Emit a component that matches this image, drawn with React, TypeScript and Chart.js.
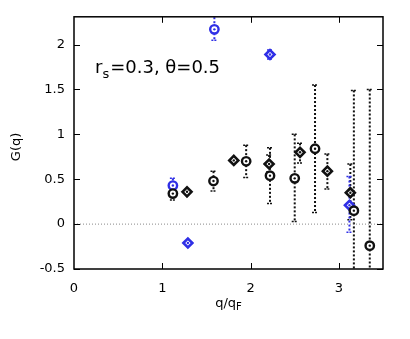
import React, { useEffect, useRef } from "react";
import { Chart, registerables } from "chart.js";

Chart.register(...registerables);

const xTicks = [0, 1, 2, 3];
const yTicks = [-0.5, 0, 0.5, 1, 1.5, 2];

const blackCircleX = [1.12, 1.58, 1.95, 2.22, 2.5, 2.73, 3.17, 3.35];
const blackCircleY = [0.34, 0.48, 0.7, 0.54, 0.51, 0.84, 0.15, -0.24];
const blackCircleLo = [0.27, 0.37, 0.52, 0.23, 0.03, 0.13, -0.7, -0.7];
const blackCircleHi = [0.4, 0.59, 0.88, 0.85, 1.0, 1.55, 1.49, 1.5];

const blackDiamondX = [1.28, 1.81, 2.21, 2.56, 2.87, 3.13];
const blackDiamondY = [0.36, 0.71, 0.67, 0.8, 0.59, 0.35];
const blackDiamondLo = [0.35, 0.7, 0.58, 0.68, 0.39, 0.05];
const blackDiamondHi = [0.37, 0.72, 0.77, 0.9, 0.78, 0.67];

const blueCircleX = [1.12, 1.59];
const blueCircleY = [0.43, 2.17];
const blueCircleLo = [0.38, 2.05];
const blueCircleHi = [0.51, 2.35];

const blueDiamondX = [1.29, 2.22, 3.12];
const blueDiamondY = [-0.21, 1.89, 0.21];
const blueDiamondLo = [-0.22, 1.84, -0.09];
const blueDiamondHi = [-0.2, 1.94, 0.53];

const BLACK = "#111111";
const BLUE = "#2f2fe6";

function pts(xs: number[], ys: number[]) {
  return xs.map((x, i) => ({ x, y: ys[i] }));
}

export default function App() {
  const ref = useRef<HTMLCanvasElement | null>(null);
  useEffect(() => {
    document.body.style.margin = "0";
    const canvas = ref.current!;
    const errs: Record<number, { lo: number[]; hi: number[]; color: string }> = {
      1: { lo: blackCircleLo, hi: blackCircleHi, color: BLACK },
      2: { lo: blackDiamondLo, hi: blackDiamondHi, color: BLACK },
      3: { lo: blueCircleLo, hi: blueCircleHi, color: BLUE },
      4: { lo: blueDiamondLo, hi: blueDiamondHi, color: BLUE },
    };
    const plugin = {
      id: "custom",
      beforeDatasetsDraw(chart: any) {
        const { ctx, chartArea: a, scales } = chart;
        const ys = scales.y;
        ctx.save();
        ctx.beginPath();
        ctx.rect(a.left, a.top, a.right - a.left, a.bottom - a.top);
        ctx.clip();
        for (const k of Object.keys(errs)) {
          const idx = Number(k);
          const e = errs[idx];
          const meta = chart.getDatasetMeta(idx);
          meta.data.forEach((el: any, i: number) => {
            const px = el.x;
            const top = ys.getPixelForValue(e.hi[i]);
            const bot = ys.getPixelForValue(e.lo[i]);
            ctx.strokeStyle = e.color;
            ctx.lineWidth = 2;
            ctx.setLineDash([2, 2]);
            ctx.beginPath();
            ctx.moveTo(px, top);
            ctx.lineTo(px, bot);
            ctx.stroke();
            ctx.setLineDash([2, 1]);
            ctx.lineWidth = 1.5;
            for (const yy of [top, bot]) {
              ctx.beginPath();
              ctx.moveTo(px - 3, yy);
              ctx.lineTo(px + 3, yy);
              ctx.stroke();
            }
          });
        }
        ctx.restore();
      },
      afterDatasetsDraw(chart: any) {
        const { ctx, chartArea: a, scales } = chart;
        for (const idx of [1, 2, 3, 4]) {
          const meta = chart.getDatasetMeta(idx);
          const color = idx <= 2 ? BLACK : BLUE;
          meta.data.forEach((el: any) => {
            ctx.fillStyle = color;
            ctx.beginPath();
            ctx.arc(el.x, el.y, 1.2, 0, Math.PI * 2);
            ctx.fill();
          });
        }
        ctx.save();
        ctx.strokeStyle = "#000";
        ctx.lineWidth = 1.5;
        ctx.setLineDash([]);
        ctx.strokeRect(a.left, a.top, a.right - a.left, a.bottom - a.top);
        ctx.lineWidth = 1;
        const tl = 6;
        for (const v of xTicks) {
          const px = Math.round(scales.x.getPixelForValue(v)) + 0.5;
          if (v === 0) continue;
          ctx.beginPath();
          ctx.moveTo(px, a.bottom);
          ctx.lineTo(px, a.bottom - tl);
          ctx.moveTo(px, a.top);
          ctx.lineTo(px, a.top + tl);
          ctx.stroke();
        }
        for (const v of yTicks) {
          const py = Math.round(scales.y.getPixelForValue(v)) + 0.5;
          ctx.beginPath();
          ctx.moveTo(a.left, py);
          ctx.lineTo(a.left + tl, py);
          ctx.moveTo(a.right, py);
          ctx.lineTo(a.right - tl, py);
          ctx.stroke();
        }
        ctx.fillStyle = "#000";
        ctx.textBaseline = "alphabetic";
        ctx.textAlign = "left";
        ctx.font = '18px "DejaVu Sans"';
        let x = 95;
        const base = 73;
        ctx.fillText("r", x, base);
        x += ctx.measureText("r").width;
        ctx.font = '13px "DejaVu Sans"';
        ctx.fillText("s", x, base + 5);
        x += ctx.measureText("s").width + 1;
        ctx.font = '18px "DejaVu Sans"';
        ctx.fillText("=0.3, θ=0.5", x, base);
        ctx.font = '13px "DejaVu Sans"';
        const w1 = ctx.measureText("q/q").width;
        ctx.font = '10px "DejaVu Sans"';
        const w2 = ctx.measureText("F").width;
        const cx = (a.left + a.right) / 2;
        const sx = cx - (w1 + w2) / 2;
        ctx.font = '13px "DejaVu Sans"';
        ctx.fillText("q/q", sx, 307);
        ctx.font = '10px "DejaVu Sans"';
        ctx.fillText("F", sx + w1, 310);
        ctx.save();
        ctx.translate(20, (a.top + a.bottom) / 2 + 4);
        ctx.rotate(-Math.PI / 2);
        ctx.font = '13px "DejaVu Sans"';
        ctx.textAlign = "center";
        ctx.fillText("G(q)", 0, 0);
        ctx.restore();
        ctx.restore();
      },
    };

    const chart = new Chart(canvas, {
      type: "scatter",
      data: {
        datasets: [
          {
            type: "line",
            data: [
              { x: 0, y: 0 },
              { x: 3.5, y: 0 },
            ],
            borderColor: "#888888",
            borderWidth: 1,
            borderDash: [1, 2],
            pointRadius: 0,
          } as any,
          {
            data: pts(blackCircleX, blackCircleY),
            pointStyle: "circle",
            pointRadius: 4.2,
            borderWidth: 2.4,
            borderColor: BLACK,
            backgroundColor: "#ffffff",
          },
          {
            data: pts(blackDiamondX, blackDiamondY),
            pointStyle: "rectRot",
            pointRadius: 4.5,
            borderWidth: 2.6,
            borderColor: BLACK,
            backgroundColor: "#ffffff",
          },
          {
            data: pts(blueCircleX, blueCircleY),
            pointStyle: "circle",
            pointRadius: 4.2,
            borderWidth: 2.4,
            borderColor: BLUE,
            backgroundColor: "#ffffff",
          },
          {
            data: pts(blueDiamondX, blueDiamondY),
            pointStyle: "rectRot",
            pointRadius: 4.5,
            borderWidth: 2.6,
            borderColor: BLUE,
            backgroundColor: "#ffffff",
          },
        ],
      },
      options: {
        responsive: false,
        animation: false,
        layout: { padding: { top: 16, right: 27, left: 0, bottom: 0 } },
        plugins: { legend: { display: false }, tooltip: { enabled: false } },
        scales: {
          x: {
            type: "linear",
            min: 0,
            max: 3.5,
            afterFit: (s: any) => {
              s.height = 70;
            },
            afterBuildTicks: (s: any) => {
              s.ticks = xTicks.map((v) => ({ value: v }));
            },
            grid: { display: false, drawTicks: false },
            border: { display: false },
            ticks: {
              color: "#000",
              padding: 12,
              font: { family: "DejaVu Sans", size: 13 },
              callback: (v: any) => String(v),
            },
          },
          y: {
            type: "linear",
            min: -0.5,
            max: 2.31,
            afterFit: (s: any) => {
              s.width = 74;
            },
            afterBuildTicks: (s: any) => {
              s.ticks = yTicks.map((v) => ({ value: v }));
            },
            grid: { display: false, drawTicks: false },
            border: { display: false },
            ticks: {
              color: "#000",
              padding: 9,
              font: { family: "DejaVu Sans", size: 13 },
              callback: (v: any) => String(v),
            },
          },
        },
      },
      plugins: [plugin],
    });
    return () => chart.destroy();
  }, []);
  return (
    <div style={{ width: 410, height: 339 }}>
      <canvas ref={ref} width={410} height={339} />
    </div>
  );
}
